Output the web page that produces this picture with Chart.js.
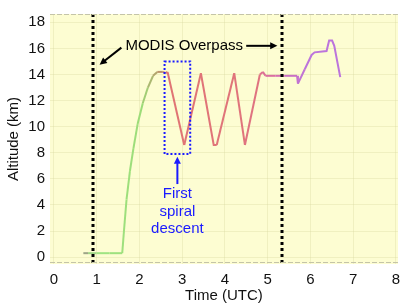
<!DOCTYPE html>
<html>
<head>
<meta charset="utf-8">
<script src="https://cdn.jsdelivr.net/npm/chart.js@4"></script>
<style>
    html, body { margin: 0; padding: 0; background: #ffffff; }
    #wrap { width: 407px; height: 305px; }
</style>
</head>
<body>
<div id="wrap"><canvas id="altitudeChart" width="407" height="305"></canvas></div>
<script>
// Flight altitude vs time
const timeUtc = [0.69, 0.80, 1.00, 1.30, 1.60, 1.64, 1.70, 1.78, 1.86, 1.96, 2.08, 2.20, 2.32, 2.42,
    2.55, 2.61, 2.66, 3.05, 3.44, 3.74, 3.81, 4.22, 4.47, 4.82, 4.89, 4.95, 5.18, 5.40, 5.69, 5.71,
    5.87, 6.03, 6.10, 6.38, 6.44, 6.51, 6.56, 6.70];
const altitudeKm = [0.3, 0.3, 0.3, 0.3, 0.3, 2.0, 4.4, 6.6, 8.3, 10.2, 11.8, 13.0, 13.9, 14.2,
    14.2, 14.1, 14.2, 8.6, 14.1, 8.6, 8.6, 14.1, 8.6, 14.0, 14.2, 13.9, 13.9, 13.9, 13.9, 13.3,
    14.4, 15.5, 15.7, 15.8, 16.6, 16.6, 16.2, 13.8];
const overpassTimes = [0.92, 5.34];
const xTicks = [0, 1, 2, 3, 4, 5, 6, 7, 8];
const yTicks = [0, 2, 4, 6, 8, 10, 12, 14, 16, 18];
// first spiral descent box (time range, altitude range)
const spiralBox = { x0: 2.59, x1: 3.19, y0: 7.9, y1: 15.0 };

const font = 'Liberation Sans';

function mix(a, b, t) {
    const pa = a.match(/\w\w/g).map(h => parseInt(h, 16));
    const pb = b.match(/\w\w/g).map(h => parseInt(h, 16));
    const c = pa.map((v, i) => Math.round(v + (pb[i] - v) * t));
    return `rgb(${c[0]},${c[1]},${c[2]})`;
}

// colour of the track changes along the flight
function colorAt(x) {
    const stops = [[0.69, '9c9488'], [0.95, 'a0e684'], [2.05, '9cdc78'], [2.45, 'b8986a'],
        [2.75, 'e07474'], [4.6, 'e0747c'], [5.2, 'd86cac'], [5.9, 'bc74dc'], [7, 'bc74dc']];
    for (let i = 0; i < stops.length - 1; i++) {
        if (x <= stops[i + 1][0]) {
            const t = Math.max(0, (x - stops[i][0]) / (stops[i + 1][0] - stops[i][0]));
            return mix(stops[i][1], stops[i + 1][1], t);
        }
    }
    return '#' + stops[stops.length - 1][1];
}

function arrow(ctx, x0, y0, x1, y1, color, head) {
    const ang = Math.atan2(y1 - y0, x1 - x0);
    ctx.save();
    ctx.strokeStyle = color;
    ctx.fillStyle = color;
    ctx.lineWidth = 2;
    ctx.beginPath();
    ctx.moveTo(x0, y0);
    ctx.lineTo(x1 - Math.cos(ang) * head * 0.8, y1 - Math.sin(ang) * head * 0.8);
    ctx.stroke();
    ctx.beginPath();
    ctx.moveTo(x1, y1);
    ctx.lineTo(x1 - head * Math.cos(ang - 0.45), y1 - head * Math.sin(ang - 0.45));
    ctx.lineTo(x1 - head * Math.cos(ang + 0.45), y1 - head * Math.sin(ang + 0.45));
    ctx.closePath();
    ctx.fill();
    ctx.restore();
}

const plotBackground = {
    id: 'plotBackground',
    beforeDraw(chart) {
        const { ctx, chartArea: a } = chart;
        ctx.save();
        ctx.fillStyle = '#fdfdd2';
        ctx.fillRect(a.left, a.top, a.right - a.left, a.bottom - a.top);
        ctx.restore();
    },
    afterDraw(chart) {
        const { ctx, chartArea: a } = chart;
        ctx.save();
        ctx.strokeStyle = '#c4c4a8';
        ctx.lineWidth = 1;
        ctx.setLineDash([5, 2]);
        ctx.beginPath();
        ctx.moveTo(a.left, a.top + 0.5);
        ctx.lineTo(a.right, a.top + 0.5);
        ctx.moveTo(a.left, a.bottom - 1.5);
        ctx.lineTo(a.right, a.bottom - 1.5);
        ctx.stroke();
        ctx.restore();
    }
};

const annotations = {
    id: 'annotations',
    afterDatasetsDraw(chart) {
        const { ctx, chartArea: a } = chart;
        const xs = chart.scales.x;
        const ys = chart.scales.y;
        ctx.save();

        // MODIS overpass lines
        ctx.strokeStyle = '#000000';
        ctx.lineWidth = 3;
        ctx.setLineDash([3, 3]);
        overpassTimes.forEach(t => {
            const px = Math.round(xs.getPixelForValue(t));
            ctx.beginPath();
            ctx.moveTo(px, a.top);
            ctx.lineTo(px, a.bottom);
            ctx.stroke();
        });

        // spiral box
        ctx.strokeStyle = '#1a1aff';
        ctx.lineWidth = 2;
        ctx.setLineDash([2, 2]);
        const bx0 = xs.getPixelForValue(spiralBox.x0);
        const bx1 = xs.getPixelForValue(spiralBox.x1);
        const by0 = ys.getPixelForValue(spiralBox.y1);
        const by1 = ys.getPixelForValue(spiralBox.y0);
        ctx.strokeRect(bx0, by0, bx1 - bx0, by1 - by0);
        ctx.setLineDash([]);

        // MODIS label and arrows
        ctx.font = '15px "' + font + '"';
        ctx.fillStyle = '#000000';
        ctx.textAlign = 'center';
        ctx.textBaseline = 'middle';
        ctx.fillText('MODIS Overpass', xs.getPixelForValue(3.05), ys.getPixelForValue(16.2));
        arrow(ctx, xs.getPixelForValue(1.58), ys.getPixelForValue(16.06),
            xs.getPixelForValue(1.07), ys.getPixelForValue(14.75), '#000000', 8);
        arrow(ctx, xs.getPixelForValue(4.5), ys.getPixelForValue(16.2),
            xs.getPixelForValue(5.23), ys.getPixelForValue(16.2), '#000000', 8);

        // first spiral descent label
        const cx = xs.getPixelForValue(2.89);
        arrow(ctx, cx, ys.getPixelForValue(5.6), cx, ys.getPixelForValue(7.7), '#1a1aff', 8);
        ctx.fillStyle = '#1a1aff';
        ctx.fillText('First', cx, ys.getPixelForValue(4.85));
        ctx.fillText('spiral', cx, ys.getPixelForValue(3.5));
        ctx.fillText('descent', cx, ys.getPixelForValue(2.15));
        ctx.restore();
    }
};

const ctx = document.getElementById('altitudeChart').getContext('2d');
new Chart(ctx, {
    type: 'line',
    data: {
        datasets: [{
            data: timeUtc.map((t, i) => ({ x: t, y: altitudeKm[i] })),
            borderWidth: 2,
            pointRadius: 0,
            tension: 0,
            segment: {
                borderColor: c => colorAt((c.p0.parsed.x + c.p1.parsed.x) / 2)
            }
        }]
    },
    options: {
        responsive: false,
        animation: false,
        layout: { padding: { top: 11, right: 2, left: 0, bottom: 0 } },
        plugins: {
            legend: { display: false },
            tooltip: { enabled: false }
        },
        scales: {
            x: {
                type: 'linear',
                min: -0.09,
                max: 8.05,
                afterBuildTicks: axis => { axis.ticks = xTicks.map(v => ({ value: v })); },
                afterFit: axis => { axis.height = 41; },
                border: { display: false },
                grid: { color: 'rgba(215,215,160,0.35)', drawTicks: false },
                ticks: { color: '#111', padding: 7, font: { family: font, size: 15 } },
                title: {
                    display: true,
                    text: 'Time (UTC)',
                    color: '#111',
                    padding: { top: 0, bottom: 0 },
                    font: { family: font, size: 15 }
                }
            },
            y: {
                min: -0.53,
                max: 18.64,
                afterBuildTicks: axis => { axis.ticks = yTicks.map(v => ({ value: v })); },
                afterFit: axis => { axis.width = 50; },
                border: { display: false },
                grid: { color: 'rgba(215,215,160,0.35)', drawTicks: false },
                ticks: { color: '#111', padding: 5, font: { family: font, size: 15 } },
                title: {
                    display: true,
                    text: 'Altitude (km)',
                    color: '#111',
                    padding: { top: 5, bottom: 0 },
                    font: { family: font, size: 15 }
                }
            }
        }
    },
    plugins: [plotBackground, annotations]
});
</script>
</body>
</html>
